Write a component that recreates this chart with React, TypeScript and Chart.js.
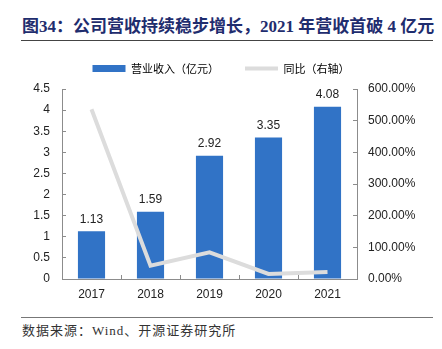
import React, { useEffect, useRef } from "react";
import { Chart, registerables } from "chart.js";

Chart.register(...registerables);

const categories = ["2017", "2018", "2019", "2020", "2021"];
const revenue = [1.13, 1.59, 2.92, 3.35, 4.08];
const yoyGrowth = [536, 42, 84, 16, 22];
const revenueLabel = "营业收入（亿元）";
const growthLabel = "同比（右轴）";
const titleText = "图34：公司营收持续稳步增长，2021 年营收首破 4 亿元";
const sourceText = "数据来源：Wind、开源证券研究所";

const BLUE = "#3173C6";
const GREY_LINE = "#DCDCDC";
const AXIS = "#8C8C8C";
const TICK_FONT = { family: "'Liberation Sans', Arial, sans-serif", size: 12 };

const valueLabels = {
  id: "valueLabels",
  afterDatasetsDraw(chart: any) {
    const ctx = chart.ctx;
    const meta = chart.getDatasetMeta(0);
    ctx.save();
    ctx.fillStyle = "#222";
    ctx.font = "12px 'Liberation Sans', Arial, sans-serif";
    ctx.textAlign = "center";
    ctx.textBaseline = "bottom";
    meta.data.forEach((el: any, i: number) => {
      ctx.fillText(revenue[i].toFixed(2), el.x, el.y - 6);
    });
    ctx.restore();
  },
};

// adds a little room between the legend row and the plot area
const legendGap = {
  id: "legendGap",
  beforeLayout(chart: any) {
    const lg = chart.legend;
    if (lg && !lg._gapPatched) {
      const fit = lg.fit.bind(lg);
      lg.fit = () => {
        fit();
        lg.height += 5;
      };
      lg._gapPatched = true;
    }
  },
};

export default function App() {
  const ref = useRef<HTMLCanvasElement | null>(null);
  useEffect(() => {
    if (!ref.current) return;
    const chart = new Chart(ref.current, {
      type: "bar",
      data: {
        labels: categories,
        datasets: [
          {
            type: "bar",
            label: revenueLabel,
            data: revenue,
            backgroundColor: BLUE,
            yAxisID: "y",
            order: 1,
            barPercentage: 0.92,
            categoryPercentage: 0.5,
          },
          {
            type: "line",
            label: growthLabel,
            data: yoyGrowth,
            borderColor: GREY_LINE,
            backgroundColor: GREY_LINE,
            borderWidth: 4,
            pointRadius: 0,
            tension: 0,
            yAxisID: "y1",
            order: 0,
          },
        ],
      },
      options: {
        animation: false,
        responsive: false,
        layout: { padding: { top: 4, left: 0, right: 0, bottom: 0 } },
        plugins: {
          tooltip: { enabled: false },
          legend: {
            display: true,
            position: "top",
            labels: {
              usePointStyle: true,
              pointStyleWidth: 33,
              boxHeight: 7,
              padding: 26,
              color: "#222",
              font: { family: "'Noto Sans CJK SC', sans-serif", size: 11 },
              generateLabels: () => [
                {
                  text: revenueLabel,
                  fillStyle: BLUE,
                  strokeStyle: BLUE,
                  lineWidth: 0,
                  pointStyle: "rect",
                  datasetIndex: 0,
                  hidden: false,
                },
                {
                  text: growthLabel,
                  fillStyle: GREY_LINE,
                  strokeStyle: GREY_LINE,
                  lineWidth: 4,
                  pointStyle: "line",
                  datasetIndex: 1,
                  hidden: false,
                },
              ],
            },
          },
        },
        scales: {
          x: {
            offset: true,
            grid: {
              offset: true,
              drawOnChartArea: false,
              drawTicks: true,
              tickLength: -4,
              color: AXIS,
            },
            border: { display: true, color: AXIS },
            ticks: { color: "#222", font: TICK_FONT, padding: 12 },
            afterFit: (s: any) => {
              s.height = 31;
            },
          },
          y: {
            position: "left",
            min: 0,
            max: 4.5,
            ticks: {
              stepSize: 0.5,
              color: "#222",
              font: TICK_FONT,
              padding: 16,
              callback: (v: any) => String(Number(v)),
            },
            grid: { drawOnChartArea: false, drawTicks: true, tickLength: -4, color: AXIS },
            border: { display: true, color: AXIS },
            afterFit: (s: any) => {
              s.width = 62;
            },
          },
          y1: {
            position: "right",
            min: 0,
            max: 600,
            ticks: {
              stepSize: 100,
              color: "#222",
              font: TICK_FONT,
              padding: 15,
              callback: (v: any) => Number(v).toFixed(2) + "%",
            },
            grid: { drawOnChartArea: false, drawTicks: true, tickLength: -4, color: AXIS },
            border: { display: true, color: AXIS },
            afterFit: (s: any) => {
              s.width = 85;
            },
          },
        },
      },
      plugins: [valueLabels, legendGap],
    });
    return () => chart.destroy();
  }, []);

  return (
    <div
      style={{
        position: "absolute",
        left: 0,
        top: 0,
        width: 442,
        height: 349,
        background: "#fff",
        overflow: "hidden",
      }}
    >
      <div
        style={{
          position: "absolute",
          left: 22,
          top: 17,
          height: 20,
          lineHeight: "20px",
          whiteSpace: "nowrap",
          fontFamily: "'Liberation Serif', 'Noto Sans CJK SC', serif",
          fontWeight: "bold",
          fontSize: 17,
          color: "#1F2D6E",
        }}
      >
        {titleText}
      </div>
      <div
        style={{
          position: "absolute",
          left: 21,
          top: 40,
          width: 412,
          height: 1,
          background: "#444",
        }}
      />
      <canvas
        ref={ref}
        width={442}
        height={277}
        style={{ position: "absolute", left: 0, top: 33, width: 442, height: 277 }}
      />
      <div
        style={{
          position: "absolute",
          left: 21,
          top: 317,
          width: 412,
          height: 1,
          background: "#777",
        }}
      />
      <div
        style={{
          position: "absolute",
          left: 22,
          top: 322,
          height: 18,
          lineHeight: "18px",
          whiteSpace: "nowrap",
          fontFamily: "'Liberation Serif', 'Noto Sans CJK SC', serif",
          fontSize: 13,
          letterSpacing: 1,
          color: "#333",
        }}
      >
        {sourceText}
      </div>
    </div>
  );
}
